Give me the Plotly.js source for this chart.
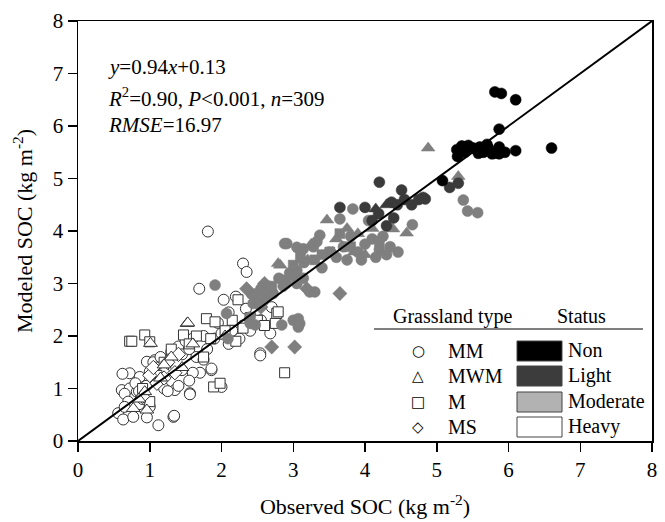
<!DOCTYPE html>
<html>
<head>
<meta charset="utf-8">
<script src="https://cdn.plot.ly/plotly-3.0.1.min.js"></script>
<style>html,body{margin:0;padding:0;background:#fff;}#chart{width:665px;height:522px;}</style>
</head>
<body>
<div id="chart"></div>
<script>
// ---- data (observed x, modeled y), kg m-2 ----
// Heavy grazing (open markers)
const heavyMM_x = [1.81,2.30,2.35,1.69,2.03,2.34,2.54,2.68,2.54,1.86,1.56,1.33,1.12,2.00,0.56,0.63,0.77,0.96,1.34,0.61,0.72,0.82,0.72,0.86,0.96,1.07,1.17,1.00,1.35,1.56,1.86,1.70,0.65,0.70,0.85,0.90,1.00,0.62,0.80,0.95,1.05,1.10,1.15,1.20,1.25,1.30,1.40,1.45,1.50,1.55,1.60,1.65,1.75,1.80,1.90,2.00,2.10,2.15,2.25,2.30,2.40,1.20,1.45,1.60,1.75,1.55,1.40,1.25,2.20,2.55,2.70,2.10,1.95,0.85,0.65];
const heavyMM_y = [3.99,3.38,3.22,2.90,2.69,2.52,1.67,2.05,1.63,1.35,0.91,0.46,0.30,1.03,0.53,0.41,0.46,0.45,0.48,0.97,1.00,0.94,1.29,1.22,1.51,1.54,1.57,1.32,0.97,0.89,1.38,1.30,0.90,0.75,0.70,0.80,0.65,1.28,1.10,1.05,1.50,1.40,1.60,1.30,1.50,1.70,1.80,1.65,1.90,1.75,1.95,1.60,2.00,1.75,1.95,2.05,1.85,2.10,1.95,2.20,2.10,1.00,1.35,1.30,1.55,1.15,1.05,0.95,2.75,2.30,2.55,2.45,2.25,0.95,0.65];
const heavyMWM_x = [1.52,1.01,0.77,0.96,0.93,1.30,1.45,1.15,1.20,0.85,1.60,2.05,1.53];
const heavyMWM_y = [2.24,1.86,0.62,0.59,0.94,1.60,1.40,1.20,1.45,0.80,1.85,2.00,2.25];
const heavyM_x = [0.72,0.75,0.93,1.00,1.47,1.79,1.91,2.23,2.77,2.79,2.75,2.88,1.89,1.98,1.65,1.85,2.05,2.15,2.30,2.40,2.50,1.30,1.55,1.20,0.90,1.10,2.60,2.20,1.75,1.00];
const heavyM_y = [1.90,1.90,2.02,1.89,2.02,2.33,2.27,2.69,2.43,2.46,2.24,1.30,1.03,1.10,2.00,1.95,2.10,2.30,2.15,2.35,2.30,1.75,1.85,1.50,1.00,1.25,2.20,1.90,1.60,0.75];
const heavyMS_x = [1.00,1.05,1.10,1.25,1.35,1.40,0.90,1.20];
const heavyMS_y = [1.25,1.40,1.10,1.50,1.30,1.65,0.85,1.20];
// Moderate grazing
const modMM_x = [2.91,1.91,2.42,2.55,2.65,2.80,2.90,3.00,2.07,2.40,2.47,2.84,3.00,3.07,2.09,3.07,3.09,2.44,2.40,2.54,2.62,2.72,2.86,2.95,3.05,3.14,2.86,3.05,3.23,3.30,2.88,3.05,3.14,3.28,3.33,3.37,3.50,3.65,3.83,4.05,4.66,4.46,3.70,3.80,3.90,4.00,4.10,4.20,4.30,4.15,3.95,3.75,3.60,4.25,4.35,5.37,5.43,5.57,3.15,3.40];
const modMM_y = [3.76,2.97,2.80,2.90,2.95,3.10,3.00,3.15,2.43,2.24,2.21,2.21,2.30,2.17,1.95,2.33,2.24,2.62,2.36,2.64,2.75,2.81,3.06,3.20,3.25,3.10,2.95,3.00,2.84,2.84,3.76,3.69,3.66,3.70,3.80,3.92,3.60,4.23,4.42,4.20,4.12,3.60,3.70,3.90,3.60,3.75,3.85,3.65,3.55,3.50,3.45,3.45,3.50,3.90,3.70,4.59,4.38,4.35,3.40,3.30];
const modMWM_x = [4.88,5.30,3.47,4.39,4.58,2.82,2.79,3.25,3.60,3.75,3.90,4.00,4.10,3.55,3.20,2.60,3.85];
const modMWM_y = [5.58,5.04,4.21,4.04,3.96,3.35,3.38,3.75,3.85,4.05,3.95,3.55,4.05,3.60,3.45,2.85,3.60];
const modM_x = [3.51,3.30,3.00,3.80,3.40,2.70,3.10,4.20,3.65];
const modM_y = [3.60,3.45,3.35,3.70,3.55,2.95,3.50,3.80,3.95];
const modMS_x = [2.47,3.19,3.65,3.02,2.70,2.35,2.60,2.55];
const modMS_y = [2.78,2.90,2.81,1.79,1.79,2.90,3.00,2.55];
// Light grazing
const lightMM_x = [4.20,4.51,4.37,4.45,4.55,4.65,4.75,4.81,4.19,5.18,5.30,4.84,3.65,4.00,4.10,4.30,4.40];
const lightMM_y = [4.93,4.78,4.55,4.50,4.60,4.50,4.60,4.64,4.33,4.83,4.91,4.61,4.45,4.45,4.20,4.10,4.25];
const lightMWM_x = [4.15,4.30];
const lightMWM_y = [4.42,4.50];
// Non grazing
const nonMM_x = [5.81,5.90,6.10,5.87,6.60,6.10,5.28,5.29,5.44,5.51,5.65,5.72,5.77,5.87,5.87,5.39,5.58,5.80,5.08,5.60,5.35,5.95,5.70];
const nonMM_y = [6.65,6.62,6.50,5.94,5.58,5.53,5.55,5.42,5.63,5.58,5.50,5.58,5.47,5.60,5.47,5.50,5.48,5.48,4.96,5.60,5.62,5.50,5.65];

const oneToOne = [0, 8];
const xTicks = [0,1,2,3,4,5,6,7,8];
const yTicks = [0,1,2,3,4,5,6,7,8];

const typeNames = ["MM","MWM","M","MS"];
const typeGlyphs = ["\u25CB","\u25B3","\u25A1","\u25C7"];
const statusNames = ["Non","Light","Moderate","Heavy"];
const statusFills = ["#000000","#3c3c3c","#b2b2b2","#ffffff"];

const statementLines = [
  "<i>y</i>=0.94<i>x</i>+0.13",
  "<i>R</i><sup>2</sup>=0.90, <i>P</i>&lt;0.001, <i>n</i>=309",
  "<i>RMSE</i>=16.97"
];

// ---- styles ----
const ptColors = {Non:"#000000", Light:"#3a3a3a", Moderate:"#7f7f7f", Heavy:"#ffffff"};
const symbols = {MM:"circle", MWM:"triangle-up", M:"square", MS:"diamond"};
const sizes = {MM:11, MWM:12, M:10, MS:11};

function tr(x, y, type, status){
  const heavy = status === "Heavy";
  return {
    x: x, y: y, type: "scatter", mode: "markers", hoverinfo: "skip",
    marker: {
      symbol: symbols[type], size: sizes[type], color: ptColors[status],
      line: {color: heavy ? "#333333" : ptColors[status], width: heavy ? 1 : 0.5}
    }
  };
}

const traces = [
  tr(heavyMM_x, heavyMM_y, "MM", "Heavy"),
  tr(heavyM_x, heavyM_y, "M", "Heavy"),
  tr(heavyMS_x, heavyMS_y, "MS", "Heavy"),
  tr(heavyMWM_x, heavyMWM_y, "MWM", "Heavy"),
  tr(modMM_x, modMM_y, "MM", "Moderate"),
  tr(modM_x, modM_y, "M", "Moderate"),
  tr(modMS_x, modMS_y, "MS", "Moderate"),
  tr(modMWM_x, modMWM_y, "MWM", "Moderate"),
  tr(lightMM_x, lightMM_y, "MM", "Light"),
  tr(lightMWM_x, lightMWM_y, "MWM", "Light"),
  tr(nonMM_x, nonMM_y, "MM", "Non"),
  {x: oneToOne, y: oneToOne, type:"scatter", mode:"lines", hoverinfo:"skip",
   line:{color:"#000", width:2}}
];

const serif = "Times New Roman, Liberation Serif, Tinos, serif";
const L = 78, R = 652, T = 21, B = 441;
const px2x = p => (p - L) / (R - L);
const px2y = p => (B - p) / (B - T);

const annotations = [];
const shapes = [];
const stmtY = [67, 97, 125];
statementLines.forEach((s, i) => annotations.push({
  xref:"paper", yref:"paper", x: px2x(106), y: px2y(stmtY[i]), xanchor:"left", yanchor:"middle",
  text: s, showarrow:false, font:{family:serif, size:21, color:"#000"}
}));
annotations.push({xref:"paper", yref:"paper", x:px2x(453), y:px2y(316), xanchor:"center", yanchor:"middle",
  text:"Grassland type", showarrow:false, font:{family:serif, size:20, color:"#000"}});
annotations.push({xref:"paper", yref:"paper", x:px2x(581), y:px2y(316), xanchor:"center", yanchor:"middle",
  text:"Status", showarrow:false, font:{family:serif, size:20, color:"#000"}});
shapes.push({type:"line", xref:"paper", yref:"paper", x0:px2x(374), x1:px2x(643), y0:px2y(329), y1:px2y(329),
  line:{color:"#000", width:1}});
const rowY = [351, 376, 402, 427];
typeNames.forEach((n, i) => {
  annotations.push({xref:"paper", yref:"paper", x:px2x(418), y:px2y(rowY[i]), xanchor:"center", yanchor:"middle",
    text:typeGlyphs[i], showarrow:false, font:{family:"DejaVu Sans", size:15, color:"#000"}});
  annotations.push({xref:"paper", yref:"paper", x:px2x(446), y:px2y(rowY[i]), xanchor:"left", yanchor:"middle",
    text:n, showarrow:false, font:{family:serif, size:20, color:"#000"}});
});
statusNames.forEach((n, i) => {
  shapes.push({type:"rect", xref:"paper", yref:"paper", x0:px2x(517), x1:px2x(562),
    y0:px2y(rowY[i]+10), y1:px2y(rowY[i]-10), fillcolor:statusFills[i], line:{color:"#444", width:1}});
  annotations.push({xref:"paper", yref:"paper", x:px2x(566), y:px2y(rowY[i]-1), xanchor:"left", yanchor:"middle",
    text:n, showarrow:false, font:{family:serif, size:20, color:"#000"}});
});

const axisCommon = {
  range:[0,8], showgrid:false, zeroline:false, showline:true, mirror:true,
  linecolor:"#000", linewidth:1.5, ticks:"outside", ticklen:9, tickwidth:1.5, tickcolor:"#000",
  tickfont:{family:serif, size:21, color:"#000"}, fixedrange:true
};

const layout = {
  width:665, height:522,
  margin:{l:L, r:665-R, t:T, b:522-B, pad:0},
  paper_bgcolor:"#fff", plot_bgcolor:"#fff",
  showlegend:false,
  font:{family:serif, color:"#000"},
  xaxis: Object.assign({}, axisCommon, {tickvals:xTicks, ticktext:xTicks.map(String),
    title:{text:"Observed SOC (kg m<sup>-2</sup>)", font:{family:serif, size:22, color:"#000"}, standoff:18}}),
  yaxis: Object.assign({}, axisCommon, {tickvals:yTicks, ticktext:yTicks.map(String),
    title:{text:"Modeled SOC (kg m<sup>-2</sup>)", font:{family:serif, size:22, color:"#000"}, standoff:14}}),
  annotations: annotations,
  shapes: shapes
};

Plotly.newPlot("chart", traces, layout, {staticPlot:true, displayModeBar:false});
</script>
</body>
</html>
